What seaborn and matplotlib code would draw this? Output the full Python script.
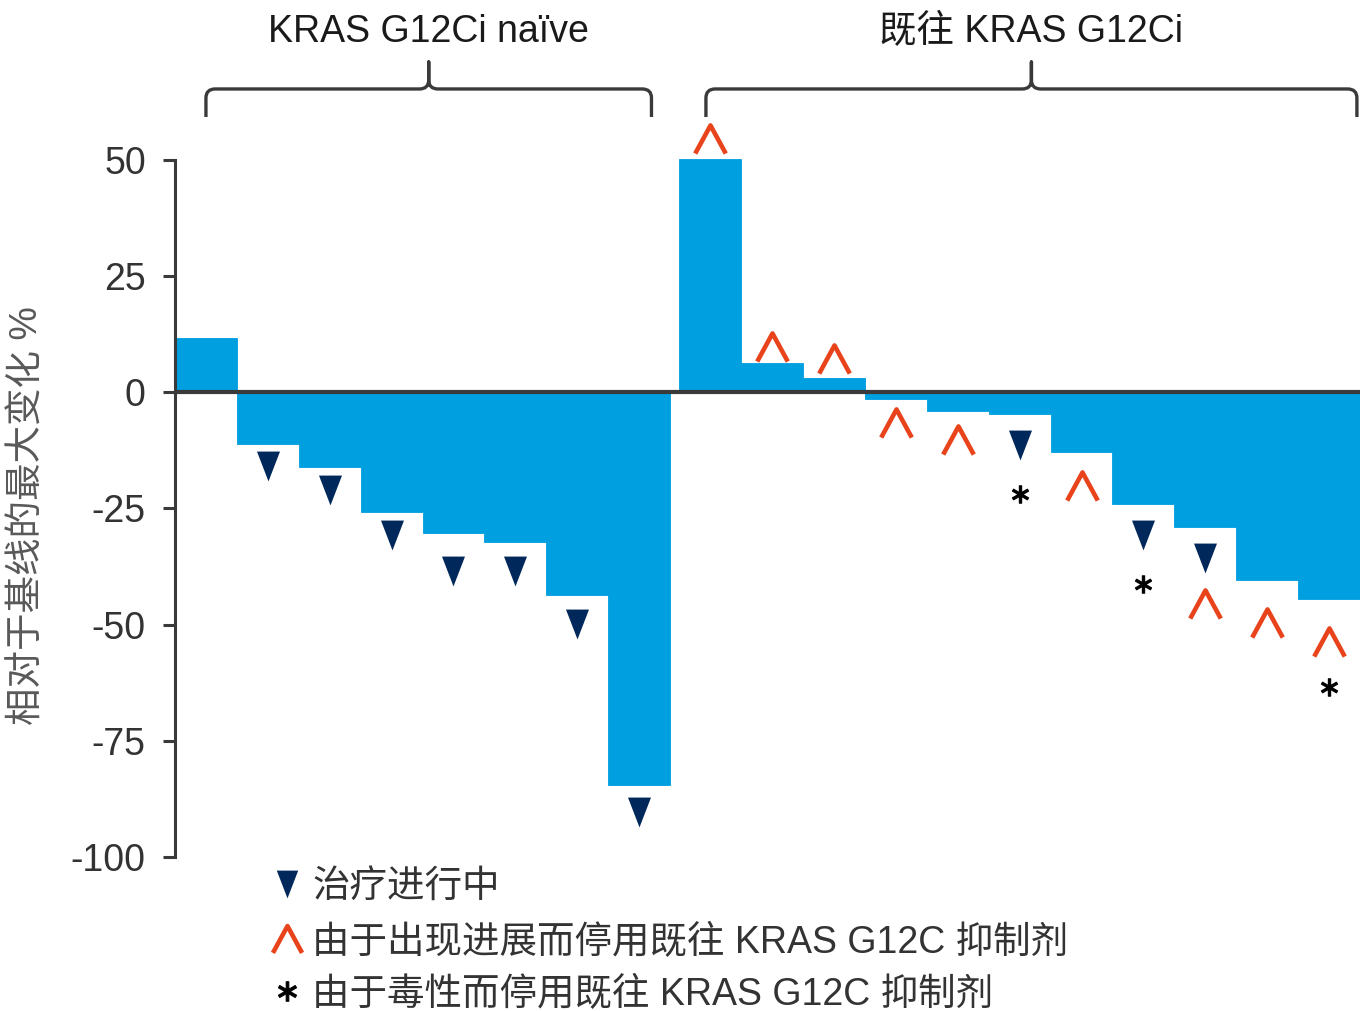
import numpy as np
import pandas as pd
import matplotlib
matplotlib.use("Agg")
import matplotlib.pyplot as plt
import seaborn as sns
from matplotlib.path import Path
from matplotlib.patches import PathPatch
from matplotlib.lines import Line2D
import matplotlib.transforms as mtransforms

# ---------------- data ----------------
naive_change = [11.7, -11.1, -16.0, -25.7, -30.2, -32.2, -43.6, -84.4]
prior_change = [50.2, 6.3, 3.1, -1.4, -4.0, -4.6, -12.8, -24.0, -29.0, -40.3, -44.4]

# marker positions per patient (None = no marker)
naive_ongoing = [None, -15.9, -21.0, -30.6, -38.4, -38.4, -49.9, -90.4]
prior_ongoing = [None, None, None, None, None, -11.3, None, -30.6, -35.7, None, None]
prior_progression = [54.5, 9.7, 7.1, -6.7, -10.3, None, -20.1, None, -45.6, -49.7, -53.7]
prior_toxicity = [None, None, None, None, None, -21.8, None, -41.2, None, None, -63.5]

group_labels = ["KRAS G12Ci naïve", "既往 KRAS G12Ci"]
y_ticks = [50, 25, 0, -25, -50, -75, -100]
y_label = "相对于基线的最大变化 %"
legend_labels = ["治疗进行中",
                 "由于出现进展而停用既往 KRAS G12C 抑制剂",
                 "由于毒性而停用既往 KRAS G12C 抑制剂"]

# ---------------- style ----------------
BAR = "#009FE0"
NAVY = "#00285A"
ORANGE = "#E8431B"
DARK = "#3A3A3A"
GROUP_GAP = 0.15

sns.set_theme(style="white")
plt.rcParams["font.family"] = ["Liberation Sans", "Noto Sans CJK SC"]

W, H = 1360, 1011
fig = plt.figure(figsize=(W / 100, H / 100), dpi=100)
ax_bottom, ax_top = 857, 150.7
ax = fig.add_axes([175 / W, 1 - ax_bottom / H, 1 - 175 / W, (ax_bottom - ax_top) / H])

x_naive = np.arange(len(naive_change), dtype=float)
x_prior = len(naive_change) + GROUP_GAP + np.arange(len(prior_change), dtype=float)

df = pd.DataFrame({
    "pos": np.concatenate([x_naive, x_prior]),
    "change": naive_change + prior_change,
})

sns.barplot(data=df, x="pos", y="change", native_scale=True, width=1.0,
            color=BAR, saturation=1, errorbar=None,
            edgecolor=BAR, linewidth=0.6, ax=ax)

# custom marker shapes
tri_down = [(-0.77, 1.0), (0.77, 1.0), (0.0, -1.0), (-0.77, 1.0)]
chevron = [(-1.0, -0.92), (0.0, 0.92), (1.0, -0.92)]

def draw_markers(xs, ys, **kw):
    pts = [(x, y) for x, y in zip(xs, ys) if y is not None]
    if pts:
        px, py = zip(*pts)
        ax.plot(px, py, linestyle="none", clip_on=False, zorder=5, **kw)

ongoing_style = dict(marker=tri_down, markersize=21.5, color=NAVY, markeredgewidth=0)
prog_style = dict(marker=chevron, markersize=22, markerfacecolor="none",
                  markeredgecolor=ORANGE, markeredgewidth=3.3)
tox_style = dict(marker=r"$\ast$", markersize=12.5, color="black",
                 markeredgecolor="black", markeredgewidth=0.8)

draw_markers(x_naive, naive_ongoing, **ongoing_style)
draw_markers(x_prior, prior_ongoing, **ongoing_style)
draw_markers(x_prior, prior_progression, **prog_style)
draw_markers(x_prior, prior_toxicity, **tox_style)

# axes
ax.axhline(0, color=DARK, lw=3.0, zorder=4)
ax.set_xlim(-0.5, x_prior[-1] + 0.5)
ax.set_ylim(-100, 52)
ax.set_yticks(y_ticks)
ax.set_yticklabels([str(t) for t in y_ticks])
ax.set_xticks([])
ax.set_xlabel("")
for s in ["top", "right", "bottom"]:
    ax.spines[s].set_visible(False)
ax.spines["left"].set_bounds(-100, 50)
ax.spines["left"].set_color(DARK)
ax.spines["left"].set_linewidth(2.2)
ax.tick_params(axis="y", length=9, width=2.2, color=DARK, pad=12,
               labelsize=27, labelcolor="#333333", left=True)
ax.set_ylabel(y_label, fontsize=27, color="#595959")
ax.yaxis.set_label_coords(-0.109, 0.484)

# group brackets
trans = mtransforms.blended_transform_factory(ax.transData, ax.transAxes)

def bracket(x0, x1, y_end=1.0477, y_h=1.0874, y_top=1.1256, rx=0.15, ry=0.0127):
    xm = (x0 + x1) / 2
    verts = [(x0, y_end), (x0, y_h - ry), (x0, y_h), (x0 + rx, y_h),
             (xm - rx, y_h), (xm, y_h), (xm, y_h + ry), (xm, y_top),
             (xm, y_h + ry), (xm, y_h), (xm + rx, y_h),
             (x1 - rx, y_h), (x1, y_h), (x1, y_h - ry), (x1, y_end)]
    codes = [Path.MOVETO, Path.LINETO, Path.CURVE3, Path.CURVE3,
             Path.LINETO, Path.CURVE3, Path.CURVE3, Path.LINETO,
             Path.LINETO, Path.CURVE3, Path.CURVE3,
             Path.LINETO, Path.CURVE3, Path.CURVE3, Path.LINETO]
    patch = PathPatch(Path(verts, codes), facecolor="none", edgecolor=DARK,
                      lw=2.4, transform=trans, clip_on=False, capstyle="butt",
                      joinstyle="round")
    ax.add_patch(patch)
    return xm

spans = [(x_naive[0], x_naive[-1] + 0.2), (x_prior[0] - 0.07, x_prior[-1] + 0.45)]
for (a, b), lab in zip(spans, group_labels):
    xm = bracket(a, b)
    ax.text(xm, 1.154, lab, transform=trans, ha="center", va="baseline",
            fontsize=27, color="#1A1A1A", clip_on=False)

# legend
def fx(px):
    return px / W

def fy(py):
    return 1 - py / H

leg_styles = [ongoing_style, prog_style, tox_style]
leg_rows = [884, 939, 991]
leg_sizes = [20, 21, 14]
for style, row, lab, ms in zip(leg_styles, leg_rows, legend_labels, leg_sizes):
    st = dict(style)
    st["markersize"] = ms
    fig.add_artist(Line2D([fx(287)], [fy(row)], linestyle="none",
                          transform=fig.transFigure, **st))
    fig.text(fx(312), fy(row), lab, ha="left", va="center_baseline",
             fontsize=27, color="#333333")

fig.savefig("out.png", dpi=100)
